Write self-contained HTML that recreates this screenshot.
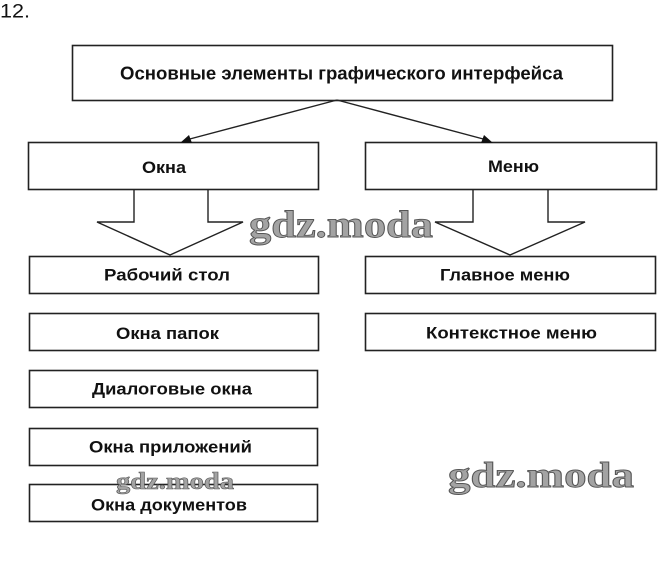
<!DOCTYPE html>
<html>
<head>
<meta charset="utf-8">
<style>
html,body{margin:0;padding:0;background:#fff;}
svg{display:block;}
.t{font-family:"Liberation Sans","Noto Sans CJK SC",sans-serif;font-weight:bold;fill:#111;}
.w{font-family:"Liberation Serif","DejaVu Serif",serif;font-weight:bold;fill:#a3a3a3;stroke:#555;stroke-width:0.9;}
</style>
</head>
<body>
<svg width="661" height="564" viewBox="0 0 661 564" xmlns="http://www.w3.org/2000/svg">
<rect x="0" y="0" width="661" height="564" fill="#fff"/>
<text x="0" y="17.5" font-family="Liberation Sans, sans-serif" font-size="19" fill="#111" textLength="30" lengthAdjust="spacingAndGlyphs">12.</text>

<g fill="none" stroke="#222" stroke-width="1.6">
  <rect x="72.5" y="45.5" width="540" height="55"/>
  <rect x="28.5" y="142.5" width="290" height="47"/>
  <rect x="365.5" y="142.5" width="291" height="47"/>
  <rect x="29.5" y="256.5" width="289" height="37"/>
  <rect x="29.5" y="313.5" width="289" height="37"/>
  <rect x="29.5" y="370.5" width="288" height="37"/>
  <rect x="29.5" y="428.5" width="288" height="37"/>
  <rect x="29.5" y="484.5" width="288" height="37"/>
  <rect x="365.5" y="256.5" width="290" height="37"/>
  <rect x="365.5" y="313.5" width="290" height="37"/>
</g>

<g fill="none" stroke="#222" stroke-width="1.4">
  <line x1="337" y1="100" x2="186" y2="140"/>
  <line x1="337" y1="100" x2="487" y2="140"/>
  <polyline points="134,190 134,222 97,222 170,255 243,222 208,222 208,190"/>
  <polyline points="473,190 473,222 435,222 510,255 585,222 548,222 548,190"/>
</g>
<polygon points="180,143 189,135 192,143" fill="#111"/>
<polygon points="493,143 484,135 481,143" fill="#111"/>

<text class="t" x="120" y="79.5" font-size="18" textLength="443" lengthAdjust="spacingAndGlyphs">Основные элементы графического интерфейса</text>
<text class="t" x="142" y="173" font-size="16.5" textLength="44" lengthAdjust="spacingAndGlyphs">Окна</text>
<text class="t" x="488" y="172" font-size="16.5" textLength="51" lengthAdjust="spacingAndGlyphs">Меню</text>
<text class="t" x="104" y="280.5" font-size="16.5" textLength="126" lengthAdjust="spacingAndGlyphs">Рабочий стол</text>
<text class="t" x="116" y="339" font-size="16.5" textLength="103" lengthAdjust="spacingAndGlyphs">Окна папок</text>
<text class="t" x="92" y="394.5" font-size="16.5" textLength="160" lengthAdjust="spacingAndGlyphs">Диалоговые окна</text>
<text class="t" x="89" y="452.5" font-size="16.5" textLength="163" lengthAdjust="spacingAndGlyphs">Окна приложений</text>
<text class="t" x="91" y="510.5" font-size="16.5" textLength="156" lengthAdjust="spacingAndGlyphs">Окна документов</text>
<text class="t" x="440" y="280.5" font-size="16.5" textLength="130" lengthAdjust="spacingAndGlyphs">Главное меню</text>
<text class="t" x="426" y="338.5" font-size="16.5" textLength="171" lengthAdjust="spacingAndGlyphs">Контекстное меню</text>

<text class="w" x="249" y="237" font-size="38" textLength="184" lengthAdjust="spacingAndGlyphs">gdz.moda</text>
<text class="w" x="448" y="487" font-size="36" textLength="186" lengthAdjust="spacingAndGlyphs">gdz.moda</text>
<text class="w" x="116" y="489" font-size="24" textLength="118" lengthAdjust="spacingAndGlyphs" style="stroke-width:0.6">gdz.moda</text>
</svg>
</body>
</html>
